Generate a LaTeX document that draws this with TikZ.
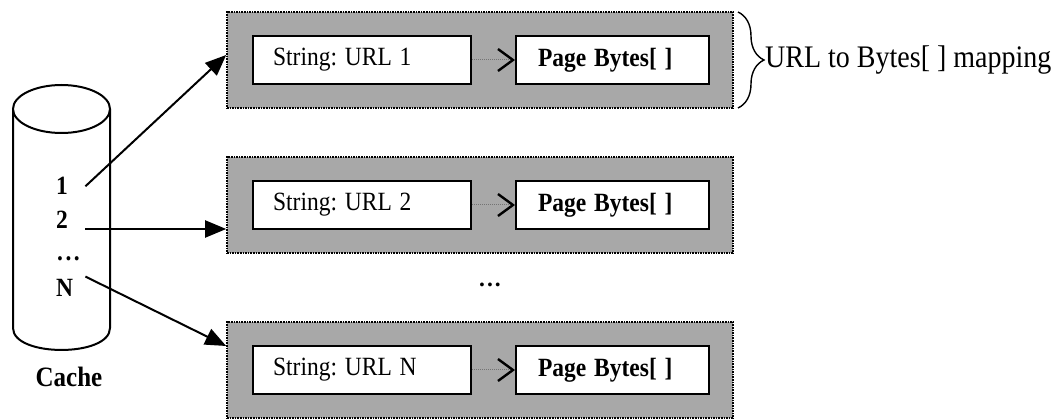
\documentclass[tikz,border=0pt]{standalone}
\usepackage{fontspec}
\usepackage{graphicx}
\setmainfont{Liberation Serif}
\usetikzlibrary{arrows.meta,decorations.pathreplacing}

% the lettering of this figure is set slightly taller than wide
\newcommand{\vstretch}[1]{\scalebox{1}[1.12]{#1}}

\tikzset{
  basefont/.style={font=\fontsize{23.5}{28}\selectfont\frenchspacing},
  rowbox/.style={draw=black, densely dotted, line width=1.6pt, fill=black!34,
    minimum width=506pt, minimum height=96pt, inner sep=0pt},
  keybox/.style={basefont, draw=black, solid, line width=2.2pt, fill=white,
    minimum height=48pt, inner xsep=20pt, inner ysep=0pt, text width=178pt,
    align=left, anchor=west},
  valbox/.style={draw=black, solid, line width=2.2pt, fill=white,
    minimum height=48pt, inner xsep=22pt, inner ysep=0pt, text width=149pt,
    align=left, anchor=west, font=\fontsize{23.5}{28}\selectfont\bfseries\frenchspacing},
  maplink/.style={draw=black!55, line width=1pt, densely dotted,
    -{Straight Barb[length=15pt, width=22pt, line width=2.4pt, color=black]}},
  slot/.style={font=\fontsize{23.5}{28}\selectfont\bfseries, text width=29pt,
    inner sep=0pt, align=left, anchor=base west},
  ptr/.style={line width=2pt, -{Triangle[length=21pt, width=17pt]}},
  cyl/.style={line width=2pt, draw=black}
}

\begin{document}
\begin{tikzpicture}[x=1pt, y=-1pt]
\useasboundingbox (0,0) rectangle (1061,419);

% cache cylinder
\draw[cyl, fill=white] (13,109) -- (13,328)
  .. controls (13,357.3) and (110,357.3) .. (110,328) -- (110,109);
\draw[cyl, fill=white] (61.5,109) ellipse [x radius=48.5, y radius=24];

% slot labels inside the cache
\node[slot] (l1) at (56,195) {\vstretch{1}};
\node[slot] (l2) at (56,229) {\vstretch{2}};
\node[slot] (ldots) at (57,261) {\vstretch{.\kern2.5pt.\kern2.5pt.}};
\node[slot] (ln) at (56,297) {\vstretch{N}};
\node[font=\fontsize{25}{30}\selectfont\bfseries] (cachelbl) at (69,377) {\vstretch{Cache}};

% mapping rows
\node[rowbox] (b1) at (480,60) {};
\node[keybox] (k1) at (252,60) {\vstretch{String: URL 1}};
\node[valbox] (v1) at (515,60) {\vstretch{Page Bytes[ ]}};
\draw[maplink] (k1) -- (v1);

\node[rowbox] (b2) at (480,205) {};
\node[keybox] (k2) at (252,205) {\vstretch{String: URL 2}};
\node[valbox] (v2) at (515,205) {\vstretch{Page Bytes[ ]}};
\draw[maplink] (k2) -- (v2);

\node[font=\fontsize{23.5}{28}\selectfont\bfseries] (gap) at (490,285) {.\kern2pt.\kern2pt.};

\node[rowbox] (b3) at (480,370) {};
\node[keybox] (k3) at (252,370) {\vstretch{String: URL N}};
\node[valbox] (v3) at (515,370) {\vstretch{Page Bytes[ ]}};
\draw[maplink] (k3) -- (v3);

% pointers from the cache slots to the rows
\draw[ptr] (l1.east) -- (b1.west |- 0,55);
\draw[ptr] (l2.base east) -- (l2.base east -| b2.west);
\draw[ptr] ([yshift=3pt]ln.north east) -- (b3.west |- 0,346);

% brace and caption for the first row
\coordinate (bt) at (738,12);
\coordinate (bb) at (738,108);
\draw[line width=1.4pt, decorate, decoration={brace, amplitude=26pt}] (bt) -- (bb);
\node[font=\fontsize{28}{32}\selectfont\frenchspacing, anchor=west, inner sep=0pt] (maplbl) at (765,60) {\vstretch{URL to Bytes[ ] mapping}};
\end{tikzpicture}
\end{document}
